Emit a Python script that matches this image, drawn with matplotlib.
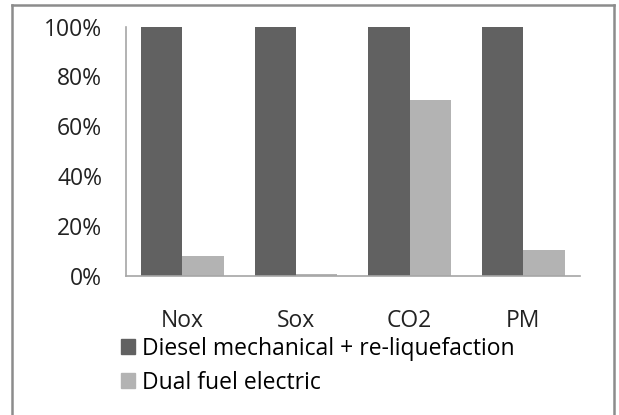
import numpy as np
import matplotlib.pyplot as plt
from matplotlib.patches import Patch
from matplotlib.lines import Line2D

# emissions relative to diesel mechanical + re-liquefaction
categories = ['Nox', 'Sox', 'CO2', 'PM']
diesel_mech = [1.00, 1.00, 1.00, 1.00]
dual_fuel = [0.08, 0.007, 0.705, 0.105]
series_names = ['Diesel mechanical + re-liquefaction', 'Dual fuel electric']
yticks = [0, 0.2, 0.4, 0.6, 0.8, 1.0]
ytick_labels = ['0%', '20%', '40%', '60%', '80%', '100%']

dark = '#616161'
light = '#b3b3b3'
plt.rcParams['font.family'] = ['Open Sans', 'DejaVu Sans']
fs = 16.5

fig = plt.figure(figsize=(6.19, 4.15), dpi=100)
ax = fig.add_axes([0.203, 0.335, 0.734, 0.601])

x = np.arange(len(categories))
w = 0.365
ax.bar(x - w / 2, diesel_mech, w, color=dark)
ax.bar(x + w / 2, dual_fuel, w, color=light)

ax.set_xlim(-0.5, 3.5)
ax.set_ylim(0, 1.0)
ax.set_yticks(yticks)
ax.set_yticklabels(ytick_labels, fontsize=fs, color='#222222')
ax.set_xticks(x)
ax.set_xticklabels(categories, fontsize=fs, color='#222222')
ax.tick_params(axis='both', length=0)
ax.tick_params(axis='y', pad=17)
ax.tick_params(axis='x', pad=24)
for s in ['top', 'right']:
    ax.spines[s].set_visible(False)
for s in ['left', 'bottom']:
    ax.spines[s].set_color('#a6a6a6')
    ax.spines[s].set_linewidth(1.2)

handles = [Patch(color=dark), Patch(color=light)]
fig.legend(handles, series_names, loc='upper left',
           bbox_to_anchor=(0.195, 0.188), frameon=False, fontsize=fs,
           handlelength=0.62, handleheight=0.62, handletextpad=0.3,
           labelspacing=0.42, borderaxespad=0, borderpad=0)

# outer border of the chart area
bc = '#8c8c8c'
x0, x1, y1 = 12 / 619, 614 / 619, 1 - 5 / 415
fig.add_artist(Line2D([x0, x0], [0, y1], color=bc, lw=1.8, transform=fig.transFigure))
fig.add_artist(Line2D([x0, x1], [y1, y1], color=bc, lw=1.8, transform=fig.transFigure))
fig.add_artist(Line2D([x1, x1], [0, y1], color=bc, lw=1.8, transform=fig.transFigure))

fig.savefig('out.png', dpi=100)
